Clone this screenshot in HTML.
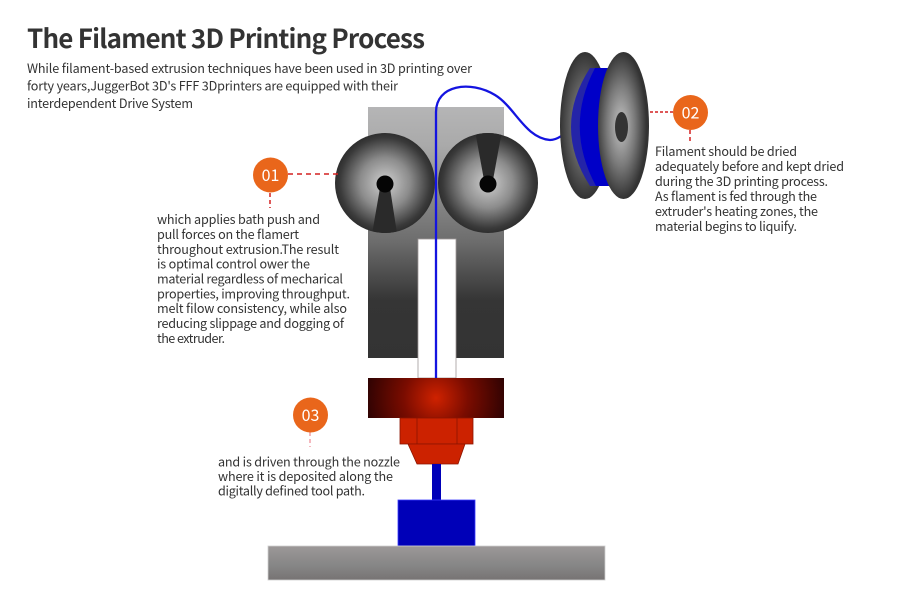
<!DOCTYPE html>
<html>
<head>
<meta charset="utf-8">
<style>
html,body{margin:0;padding:0;background:#fff;}
svg{display:block;}
text{font-family:"Noto Sans CJK SC","Liberation Sans",sans-serif;}
</style>
</head>
<body>
<svg width="900" height="600" viewBox="0 0 900 600" xmlns="http://www.w3.org/2000/svg">
<defs>
  <linearGradient id="body" x1="0" y1="107" x2="0" y2="358" gradientUnits="userSpaceOnUse">
    <stop offset="0" stop-color="#b5b5b6"/>
    <stop offset="0.15" stop-color="#aaaaaa"/>
    <stop offset="0.53" stop-color="#6e6e6e"/>
    <stop offset="0.77" stop-color="#353535"/>
    <stop offset="1" stop-color="#333333"/>
  </linearGradient>
  <radialGradient id="wheel" cx="0.5" cy="0.5" r="0.5">
    <stop offset="0" stop-color="#cfcfcf"/>
    <stop offset="0.5" stop-color="#8c8c8c"/>
    <stop offset="0.9" stop-color="#3a3a3a"/>
    <stop offset="1" stop-color="#2e2e2e"/>
  </radialGradient>
  <radialGradient id="disc" cx="0.45" cy="0.5" r="0.5">
    <stop offset="0" stop-color="#c4c4c4"/>
    <stop offset="0.55" stop-color="#7a7a7a"/>
    <stop offset="1" stop-color="#333333"/>
  </radialGradient>
  <radialGradient id="disc2" cx="0.5" cy="0.5" r="0.5">
    <stop offset="0" stop-color="#9a9a9a"/>
    <stop offset="0.6" stop-color="#5e5e5e"/>
    <stop offset="1" stop-color="#333333"/>
  </radialGradient>
  <radialGradient id="heat" cx="436" cy="398" r="72" gradientUnits="userSpaceOnUse">
    <stop offset="0" stop-color="#cf2200"/>
    <stop offset="0.45" stop-color="#7a0c00"/>
    <stop offset="1" stop-color="#2c0202"/>
  </radialGradient>
  <linearGradient id="bed" x1="0" y1="0" x2="0" y2="1">
    <stop offset="0" stop-color="#9c9898"/>
    <stop offset="0.6" stop-color="#858585"/>
    <stop offset="1" stop-color="#777373"/>
  </linearGradient>
  <clipPath id="cl"><circle cx="385" cy="183" r="50"/></clipPath>
  <clipPath id="cr"><circle cx="488" cy="183" r="50"/></clipPath>
</defs>

<!-- Title -->
<text x="27" y="48" font-size="26" font-weight="bold" fill="#333" textLength="398">The Filament 3D Printing Process</text>
<g font-size="12.6" fill="#333">
  <text x="27" y="73" textLength="445">While filament-based extrusion techniques have been used in 3D printing over</text>
  <text x="27" y="90.5" textLength="371">forty years,JuggerBot 3D's FFF 3Dprinters are equipped with their</text>
  <text x="27" y="108" textLength="166">interdependent Drive System</text>
</g>

<!-- extruder body -->
<rect x="368" y="107" width="136" height="251" fill="url(#body)"/>
<rect x="418" y="239" width="38" height="139" fill="#fff" stroke="#a09a9a" stroke-width="0.8"/>

<!-- wheels -->
<circle cx="385" cy="183" r="50" fill="url(#wheel)"/>
<g clip-path="url(#cl)">
  <polygon points="380,188 390,188 398,240 371,240" fill="#2a2a2a"/>
</g>
<circle cx="385" cy="184" r="8.5" fill="#050505"/>
<circle cx="488" cy="183" r="50" fill="url(#wheel)"/>
<g clip-path="url(#cr)">
  <polygon points="484,180 493,180 503,125 474,125" fill="#2a2a2a"/>
</g>
<circle cx="488" cy="184" r="8.5" fill="#050505"/>

<!-- filament -->
<path d="M436,378 V112 C436,85 470,80 495,95 C515,107 525,138 550,140 C560,140 568,130 577,123" fill="none" stroke="#1414e0" stroke-width="2.3"/>

<!-- spool -->
<ellipse cx="585" cy="125.5" rx="25" ry="73.5" fill="url(#disc2)"/>
<path d="M590,68 Q552,127 590,186 L610,186 L610,68 Z" fill="#2424a8"/>
<path d="M595,68 Q564,127 596,186 L610,186 L610,68 Z" fill="#0000c8"/>
<ellipse cx="623.5" cy="125.5" rx="25.5" ry="73.5" fill="url(#disc)"/>
<ellipse cx="621.5" cy="127" rx="6.5" ry="15" fill="#333"/>

<!-- heater -->
<rect x="368" y="378" width="136" height="40" fill="url(#heat)"/>
<rect x="400" y="418" width="73" height="26" fill="#cc2200" stroke="#8b1500" stroke-width="0.8"/>
<line x1="417" y1="418" x2="417" y2="444" stroke="#8b1500" stroke-width="0.8"/>
<line x1="457" y1="418" x2="457" y2="444" stroke="#8b1500" stroke-width="0.8"/>
<polygon points="408,444 465,444 458,464 417,464" fill="#cc2200" stroke="#8b1500" stroke-width="0.8"/>

<!-- deposited -->
<rect x="432" y="464" width="9" height="36" fill="#0000b8"/>
<rect x="398" y="500" width="77" height="46" fill="#0000b8" stroke="#3a3aff" stroke-width="0.8"/>
<rect x="268" y="546" width="337" height="34" fill="url(#bed)" stroke="#cfcfcf" stroke-width="0.8"/>

<!-- connectors -->
<line x1="288" y1="174" x2="340" y2="174" stroke="#d42020" stroke-width="1.5" stroke-dasharray="5 4"/>
<line x1="270" y1="193" x2="270" y2="208" stroke="#d42020" stroke-width="1.5" stroke-dasharray="4 3"/>
<line x1="650" y1="112" x2="673" y2="112" stroke="#d42020" stroke-width="1.5" stroke-dasharray="3 2"/>
<line x1="690" y1="130" x2="690" y2="143" stroke="#d42020" stroke-width="1.5" stroke-dasharray="4 3"/>
<line x1="310" y1="432" x2="310" y2="447" stroke="#f0a0a8" stroke-width="1.5" stroke-dasharray="4 3"/>

<!-- badges -->
<g font-size="16" fill="#fff" text-anchor="middle">
  <circle cx="270.5" cy="175" r="17.5" fill="#e9661b"/>
  <text x="270.5" y="181">01</text>
  <circle cx="690.5" cy="112.5" r="17.5" fill="#e9661b"/>
  <text x="690.5" y="118.5">02</text>
  <circle cx="310.5" cy="415" r="17.5" fill="#e9661b"/>
  <text x="310.5" y="421">03</text>
</g>

<!-- text 01 -->
<g font-size="12.6" fill="#333">
  <text x="157" y="224" textLength="163">which applies bath push and</text>
  <text x="157" y="239" textLength="142">pull forces on the flamert</text>
  <text x="157" y="254" textLength="182">throughout extrusion.The result</text>
  <text x="157" y="268.5" textLength="153">is optimal control ower the</text>
  <text x="157" y="283.5" textLength="186">material regardless of mecharical</text>
  <text x="157" y="298.5" textLength="193">properties, improving throughput.</text>
  <text x="157" y="313" textLength="190">melt filow consistency, while also</text>
  <text x="157" y="328" textLength="187">reducing slippage and dogging of</text>
  <text x="157" y="343" textLength="68">the extruder.</text>
</g>

<!-- text 02 -->
<g font-size="12.6" fill="#333">
  <text x="655" y="156" textLength="142">Filament should be dried</text>
  <text x="655" y="171" textLength="189">adequately before and kept dried</text>
  <text x="655" y="186" textLength="173">during the 3D printing process.</text>
  <text x="655" y="201" textLength="162">As flament is fed through the</text>
  <text x="655" y="216" textLength="163">extruder's heating zones, the</text>
  <text x="655" y="231" textLength="142">material begins to liquify.</text>
</g>

<!-- text 03 -->
<g font-size="12.6" fill="#333">
  <text x="218" y="466.5" textLength="182">and is driven through the nozzle</text>
  <text x="218" y="481" textLength="175">where it is deposited along the</text>
  <text x="218" y="495.5" textLength="147">digitally defined tool path.</text>
</g>
</svg>
</body>
</html>
